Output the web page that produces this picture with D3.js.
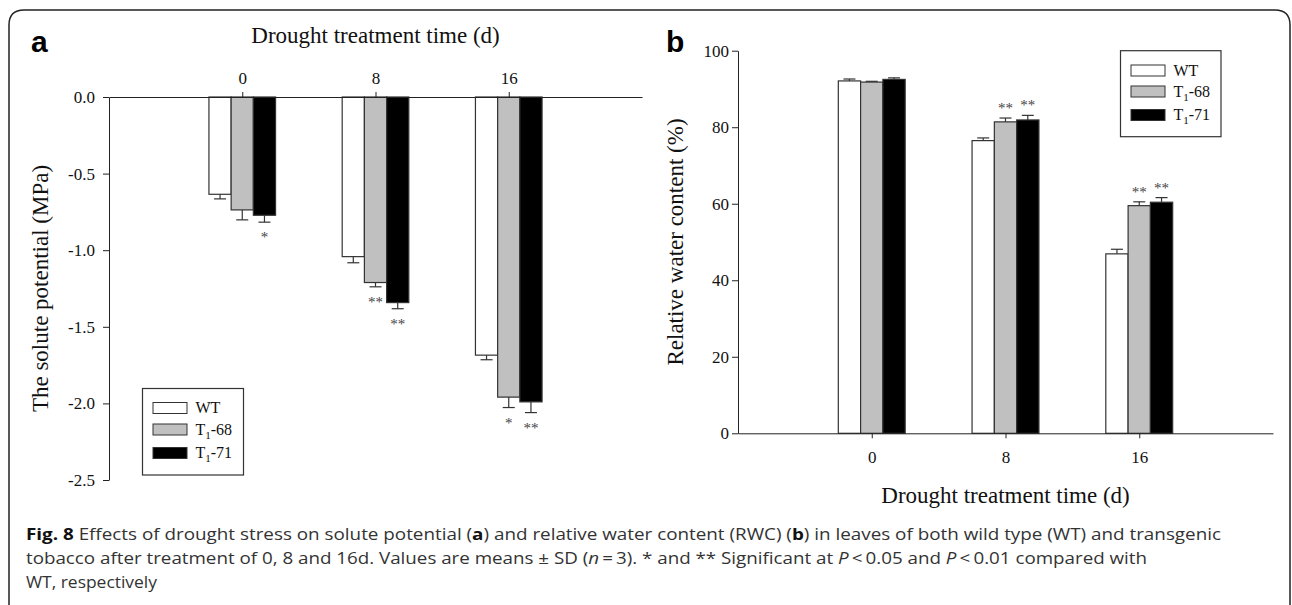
<!DOCTYPE html>
<html>
<head>
<meta charset="utf-8">
<script src="https://cdn.jsdelivr.net/npm/d3@7"></script>
<style>
	html, body { margin: 0; padding: 0; background: #fff; }
	svg { display: block; }
</style>
</head>
<body>
<svg id="fig" width="1292" height="605"></svg>
<script>
// data
const days = ["0", "8", "16"];
const lines = ["WT", "68", "71"];
const fills = ["#ffffff", "#c0c0c0", "#000000"];

// (a) solute potential, MPa
const potentialWT = [-0.635, -1.042, -1.685];
const potential68 = [-0.737, -1.211, -1.959];
const potential71 = [-0.772, -1.342, -1.99];
const potentialSdWT = [0.03, 0.04, 0.03];
const potentialSd68 = [0.065, 0.028, 0.068];
const potentialSd71 = [0.045, 0.04, 0.07];
const potentialSig68 = ["", "**", "*"];
const potentialSig71 = ["*", "**", "**"];
const potentialTicks = [0, -0.5, -1, -1.5, -2, -2.5];

// (b) relative water content, %
const rwcWT = [92.1, 76.5, 46.9];
const rwc68 = [91.8, 81.4, 59.5];
const rwc71 = [92.5, 81.9, 60.4];
const rwcSdWT = [0.5, 0.7, 1.2];
const rwcSd68 = [0.2, 1.0, 1.0];
const rwcSd71 = [0.4, 1.2, 1.2];
const rwcSig68 = ["", "**", "**"];
const rwcSig71 = ["", "**", "**"];
const rwcTicks = [0, 20, 40, 60, 80, 100];

const serif = "'Liberation Serif', 'Times New Roman', serif";
const axisColor = "#222";
const barStroke = "#333";

const svg = d3.select("#fig");

// frame round the figure
svg.append("path")
	.attr("d", "M9,620 V25 Q9,10 24,10 H1275 Q1290,10 1290,25 V620")
	.attr("fill", "none")
	.attr("stroke", "#222")
	.attr("stroke-width", 1.5);

const toRows = (a, b, c, sa, sb, sc, gb, gc) => {
	const rows = [];
	[a, b, c].forEach((vals, s) => {
		const sds = [sa, sb, sc][s];
		const sig = [null, gb, gc][s];
		vals.forEach((v, i) => {
			rows.push({ s, i, v, sd: sds[i], sig: sig ? sig[i] : "" });
		});
	});
	return rows;
};

const styleAxis = (g, size) => {
	g.select(".domain").attr("stroke", axisColor);
	g.selectAll(".tick line").attr("stroke", axisColor);
	g.selectAll("text")
		.attr("font-family", serif)
		.attr("font-size", size)
		.attr("fill", "#111");
};

const drawLegend = (g, x0, y0, w, h, rowYs) => {
	g.append("rect")
		.attr("x", x0).attr("y", y0)
		.attr("width", w).attr("height", h)
		.attr("fill", "#fff")
		.attr("stroke", "#333")
		.attr("stroke-width", 1.2);
	lines.forEach((name, s) => {
		g.append("rect")
			.attr("x", x0 + 10.5).attr("y", rowYs[s] - 5.5)
			.attr("width", 34).attr("height", 11)
			.attr("fill", fills[s])
			.attr("stroke", barStroke)
			.attr("stroke-width", 1);
		const t = g.append("text")
			.attr("x", x0 + 53)
			.attr("y", rowYs[s] + 5)
			.attr("font-family", serif)
			.attr("font-size", 16)
			.attr("fill", "#111");
		if (s === 0) {
			t.text("WT");
		} else {
			t.append("tspan").text("T");
			t.append("tspan").attr("font-size", 11).attr("dy", 4).text("1");
			t.append("tspan").attr("dy", -4).text("-" + name);
		}
	});
};

const drawBars = (g, rows, x, y, bw, dir) => {
	g.selectAll("rect.bar")
		.data(rows)
		.join("rect")
		.attr("class", "bar")
		.attr("x", (d) => x(d.i) + (d.s - 1.5) * bw)
		.attr("y", (d) => Math.min(y(0), y(d.v)))
		.attr("width", bw)
		.attr("height", (d) => Math.abs(y(d.v) - y(0)))
		.attr("fill", (d) => fills[d.s])
		.attr("stroke", barStroke)
		.attr("stroke-width", 1.2);

	// error bars point away from zero
	const err = g.selectAll("g.err")
		.data(rows)
		.join("g")
		.attr("class", "err");
	const cx = (d) => x(d.i) + (d.s - 1) * bw;
	const tip = (d) => y(d.v + dir * d.sd);
	err.append("line")
		.attr("x1", cx).attr("x2", cx)
		.attr("y1", (d) => y(d.v)).attr("y2", tip)
		.attr("stroke", barStroke).attr("stroke-width", 1.2);
	err.append("line")
		.attr("x1", (d) => cx(d) - 6).attr("x2", (d) => cx(d) + 6)
		.attr("y1", tip).attr("y2", tip)
		.attr("stroke", barStroke).attr("stroke-width", 1.2);

	g.selectAll("text.sig")
		.data(rows.filter((d) => d.sig))
		.join("text")
		.attr("class", "sig")
		.attr("x", cx)
		.attr("y", (d) => (dir < 0 ? tip(d) + 20 : tip(d) - 5))
		.attr("text-anchor", "middle")
		.attr("font-family", serif)
		.attr("font-size", 15)
		.attr("fill", "#444")
		.text((d) => d.sig);
};

// ---------- panel a ----------
const xA = d3.scaleLinear([-1, 3], [109, 642]);
const yA = d3.scaleLinear([0, -2.5], [97, 480]);
const bwA = (xA(1) - xA(0)) / 6;
const panelA = svg.append("g").attr("class", "panel-a");

const rowsA = toRows(
	potentialWT, potential68, potential71,
	potentialSdWT, potentialSd68, potentialSd71,
	potentialSig68, potentialSig71
);
drawBars(panelA, rowsA, xA, yA, bwA, -1);

const axA_x = panelA.append("g")
	.attr("transform", "translate(0," + yA(0) + ")")
	.call(d3.axisTop(xA).tickValues([0, 1, 2]).tickFormat((i) => days[i])
		.tickSize(5).tickSizeOuter(0).tickPadding(8));
styleAxis(axA_x, 17);

const axA_y = panelA.append("g")
	.attr("transform", "translate(" + xA(-1) + ",0)")
	.call(d3.axisLeft(yA).tickValues(potentialTicks).tickFormat((d) => d.toFixed(1))
		.tickSize(6).tickSizeOuter(0).tickPadding(8));
styleAxis(axA_y, 17);

panelA.append("text")
	.attr("x", (xA(-1) + xA(3)) / 2).attr("y", 43)
	.attr("text-anchor", "middle")
	.attr("font-family", serif).attr("font-size", 23).attr("fill", "#111")
	.text("Drought treatment time (d)");

panelA.append("text")
	.attr("transform", "translate(48," + (yA(0) + yA(-2.5)) / 2 + ") rotate(-90)")
	.attr("text-anchor", "middle")
	.attr("font-family", serif).attr("font-size", 23).attr("fill", "#111")
	.text("The solute potential (MPa)");

drawLegend(panelA, 142.5, 388.5, 101, 86.5, [408, 429.5, 453]);

panelA.append("text")
	.attr("x", 31).attr("y", 52)
	.attr("font-family", "'Liberation Sans', Arial, sans-serif")
	.attr("font-weight", "bold").attr("font-size", 30).attr("fill", "#000")
	.text("a");

// ---------- panel b ----------
const xB = d3.scaleLinear([-1, 3], [738, 1273]);
const yB = d3.scaleLinear([0, 100], [433.3, 50.7]);
const bwB = (xB(1) - xB(0)) / 6;
const panelB = svg.append("g").attr("class", "panel-b");

const rowsB = toRows(
	rwcWT, rwc68, rwc71,
	rwcSdWT, rwcSd68, rwcSd71,
	rwcSig68, rwcSig71
);
drawBars(panelB, rowsB, xB, yB, bwB, 1);

const axB_x = panelB.append("g")
	.attr("transform", "translate(0," + yB(0) + ")")
	.call(d3.axisBottom(xB).tickValues([0, 1, 2]).tickFormat((i) => days[i])
		.tickSize(5).tickSizeOuter(0).tickPadding(13));
styleAxis(axB_x, 17);

const axB_y = panelB.append("g")
	.attr("transform", "translate(" + xB(-1) + ",0)")
	.call(d3.axisLeft(yB).tickValues(rwcTicks)
		.tickSize(6).tickSizeOuter(0).tickPadding(3));
styleAxis(axB_y, 17);

panelB.append("text")
	.attr("x", (xB(-1) + xB(3)) / 2).attr("y", 503)
	.attr("text-anchor", "middle")
	.attr("font-family", serif).attr("font-size", 23).attr("fill", "#111")
	.text("Drought treatment time (d)");

panelB.append("text")
	.attr("transform", "translate(683," + (yB(0) + yB(100)) / 2 + ") rotate(-90)")
	.attr("text-anchor", "middle")
	.attr("font-family", serif).attr("font-size", 23).attr("fill", "#111")
	.text("Relative water content (%)");

drawLegend(panelB, 1120.5, 50.7, 100.5, 86, [70.5, 91.5, 115]);

panelB.append("text")
	.attr("x", 666).attr("y", 52)
	.attr("font-family", "'Liberation Sans', Arial, sans-serif")
	.attr("font-weight", "bold").attr("font-size", 30).attr("fill", "#000")
	.text("b");

// ---------- caption ----------
const cap = svg.append("g")
	.attr("font-family", "'Open Sans', sans-serif")
	.attr("font-size", 16)
	.attr("fill", "#333");

const l1 = cap.append("text").attr("x", 26).attr("y", 540)
	.attr("textLength", 1195).attr("lengthAdjust", "spacingAndGlyphs");
l1.append("tspan").attr("font-weight", "bold").attr("fill", "#111").text("Fig. 8");
l1.append("tspan").text(" Effects of drought stress on solute potential (");
l1.append("tspan").attr("font-weight", "bold").attr("fill", "#111").text("a");
l1.append("tspan").text(") and relative water content (RWC) (");
l1.append("tspan").attr("font-weight", "bold").attr("fill", "#111").text("b");
l1.append("tspan").text(") in leaves of both wild type (WT) and transgenic");

const l2 = cap.append("text").attr("x", 26).attr("y", 564)
	.attr("textLength", 1121).attr("lengthAdjust", "spacingAndGlyphs");
l2.append("tspan").text("tobacco after treatment of 0, 8 and 16d. Values are means \u00b1 SD (");
l2.append("tspan").attr("font-style", "italic").text("n");
l2.append("tspan").text("\u2009=\u20093). * and ** Significant at ");
l2.append("tspan").attr("font-style", "italic").text("P");
l2.append("tspan").text("\u2009<\u20090.05 and ");
l2.append("tspan").attr("font-style", "italic").text("P");
l2.append("tspan").text("\u2009<\u20090.01 compared with");

cap.append("text").attr("x", 26).attr("y", 588)
	.attr("textLength", 131).attr("lengthAdjust", "spacingAndGlyphs")
	.text("WT, respectively");
</script>
</body>
</html>
